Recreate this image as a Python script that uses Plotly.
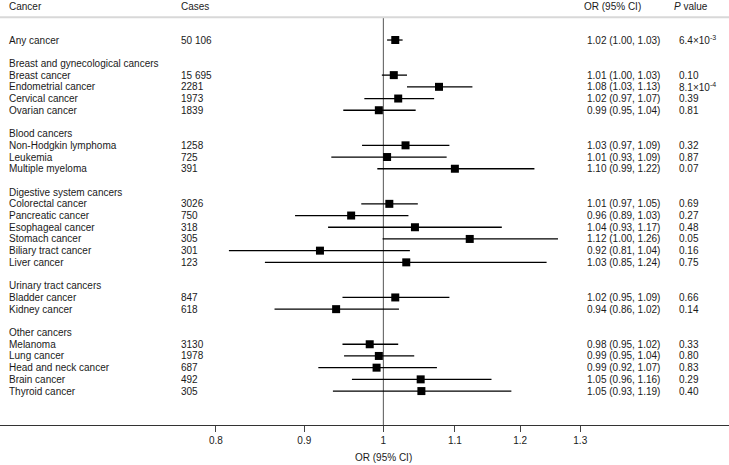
import plotly.graph_objects as go
import math

# ---------------- data ----------------
cancers = ["Any cancer",
           "Breast cancer", "Endometrial cancer", "Cervical cancer", "Ovarian cancer",
           "Non-Hodgkin lymphoma", "Leukemia", "Multiple myeloma",
           "Colorectal cancer", "Pancreatic cancer", "Esophageal cancer", "Stomach cancer",
           "Biliary tract cancer", "Liver cancer",
           "Bladder cancer", "Kidney cancer",
           "Melanoma", "Lung cancer", "Head and neck cancer", "Brain cancer", "Thyroid cancer"]
cancer_group = [None] + \
               ["Breast and gynecological cancers"] * 4 + \
               ["Blood cancers"] * 3 + \
               ["Digestive system cancers"] * 6 + \
               ["Urinary tract cancers"] * 2 + \
               ["Other cancers"] * 5
cases = ["50 106", "15 695", "2281", "1973", "1839", "1258", "725", "391",
         "3026", "750", "318", "305", "301", "123", "847", "618",
         "3130", "1978", "687", "492", "305"]
or_est = [1.016, 1.014, 1.077, 1.020, 0.994, 1.030, 1.005, 1.100,
          1.008, 0.958, 1.043, 1.122, 0.919, 1.031, 1.016, 0.939,
          0.982, 0.994, 0.991, 1.051, 1.052]
ci_low = [1.005, 0.998, 1.032, 0.975, 0.948, 0.972, 0.933, 0.992,
          0.971, 0.889, 0.929, 0.999, 0.814, 0.854, 0.947, 0.865,
          0.947, 0.949, 0.917, 0.959, 0.935]
ci_high = [1.026, 1.032, 1.126, 1.070, 1.044, 1.092, 1.088, 1.223,
           1.047, 1.034, 1.171, 1.262, 1.036, 1.243, 1.092, 1.021,
           1.020, 1.042, 1.074, 1.155, 1.186]
or_text = ["1.02 (1.00, 1.03)", "1.01 (1.00, 1.03)", "1.08 (1.03, 1.13)", "1.02 (0.97, 1.07)",
           "0.99 (0.95, 1.04)", "1.03 (0.97, 1.09)", "1.01 (0.93, 1.09)", "1.10 (0.99, 1.22)",
           "1.01 (0.97, 1.05)", "0.96 (0.89, 1.03)", "1.04 (0.93, 1.17)", "1.12 (1.00, 1.26)",
           "0.92 (0.81, 1.04)", "1.03 (0.85, 1.24)", "1.02 (0.95, 1.09)", "0.94 (0.86, 1.02)",
           "0.98 (0.95, 1.02)", "0.99 (0.95, 1.04)", "0.99 (0.92, 1.07)", "1.05 (0.96, 1.16)",
           "1.05 (0.93, 1.19)"]
p_text = ["6.4×10<sup>-3</sup>", "0.10", "8.1×10<sup>-4</sup>", "0.39", "0.81",
          "0.32", "0.87", "0.07", "0.69", "0.27", "0.48", "0.05", "0.16", "0.75",
          "0.66", "0.14", "0.33", "0.80", "0.83", "0.29", "0.40"]
headers = ["Cancer", "Cases", "OR (95% CI)", "<i>P</i> value"]
tick_vals = [0.8, 0.9, 1.0, 1.1, 1.2, 1.3]
tick_text = ["0.8", "0.9", "1", "1.1", "1.2", "1.3"]
x_title = "OR (95% CI)"

# ---------------- layout of rows ----------------
rows_y = []
group_rows = []
i = 0
prev = None
for k, g in enumerate(cancer_group):
    if g != prev:
        if g is not None:
            i += 1  # blank row
            group_rows.append((g, i))
            i += 1
        prev = g
    rows_y.append(i)
    i += 1

FONT = "Liberation Sans, Arial, Helvetica, sans-serif"
TXT = "#1a1a1a"
FS = 10

fig = go.Figure()

# reference line at OR = 1
fig.add_trace(go.Scatter(x=[1, 1], y=[-1.94, 33.5], mode="lines",
                         line=dict(color="#555555", width=1), hoverinfo="skip",
                         showlegend=False, cliponaxis=False))

err_plus = [h - o for h, o in zip(ci_high, or_est)]
err_minus = [o - l for o, l in zip(or_est, ci_low)]
fig.add_trace(go.Scatter(
    x=or_est, y=rows_y, mode="markers",
    marker=dict(symbol="square", size=8, color="black"),
    error_x=dict(type="data", array=err_plus, arrayminus=err_minus,
                 width=0, thickness=1.3, color="black"),
    showlegend=False, hoverinfo="skip"))

ann = []
def add_text(x, y, text):
    ann.append(dict(x=x, y=y, xref="paper", yref="y", text=text, showarrow=False,
                    xanchor="left", yanchor="middle", xshift=-1,
                    font=dict(family=FONT, size=FS, color=TXT)))

col_x_header = [8 / 729, 180 / 729, 583 / 729, 673 / 729]
col_x = [8 / 729, 180 / 729, 586 / 729, 678 / 729]
for hx, h in zip(col_x_header, headers):
    add_text(hx, -2.9, h)
for g, gy in group_rows:
    add_text(col_x[0], gy, g)
for k in range(len(cancers)):
    y = rows_y[k]
    add_text(col_x[0], y, cancers[k])
    add_text(col_x[1], y, cases[k])
    add_text(col_x[2], y, or_text[k])
    add_text(col_x[3], y, p_text[k])

ann.append(dict(x=math.log10(1.0), y=-0.077, xref="x", yref="paper", text=x_title,
                showarrow=False, xanchor="center", yanchor="middle",
                font=dict(family=FONT, size=FS, color=TXT)))

fig.update_layout(
    width=729, height=465,
    margin=dict(l=0, r=0, t=0, b=40),
    paper_bgcolor="white", plot_bgcolor="white",
    annotations=ann,
    shapes=[dict(type="line", xref="paper", yref="y", x0=0, x1=1, y0=-1.94, y1=-1.94,
                 line=dict(color="#d8d8d8", width=2))],
    xaxis=dict(type="log", range=[math.log10(0.600), math.log10(1.585)],
               tickvals=tick_vals, ticktext=tick_text,
               showline=True, linecolor="#333333", linewidth=1.2,
               ticks="outside", ticklen=6, tickcolor="#444444", tickwidth=1,
               showgrid=False, zeroline=False,
               tickfont=dict(family=FONT, size=FS, color=TXT)),
    yaxis=dict(range=[32.9, -3.42], visible=False, showgrid=False, zeroline=False),
)

fig.write_html("out.html", config={"displayModeBar": False},
               post_script="document.body.style.margin='0';")
